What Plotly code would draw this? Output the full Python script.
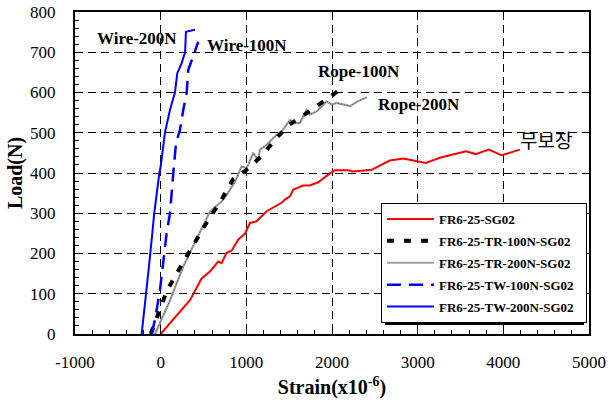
import plotly.graph_objects as go

# ---- data ----
sg_strain = [0, 147, 342, 478, 575, 672, 711, 770, 828, 906, 984, 1042, 1120, 1237, 1334, 1412, 1450,
             1509, 1548, 1664, 1742, 1839, 1976, 2034, 2189, 2245, 2463, 2675, 2831, 3096, 3259, 3415,
             3563, 3676, 3832, 3979, 4193]
sg_load = [0, 35, 84, 138, 155, 180, 176, 202, 207, 235, 249, 276, 280, 305, 316, 326, 334,
           342, 359, 369, 369, 377, 399, 407, 407, 404, 408, 431, 436, 425, 438, 446,
           454, 447, 458, 444, 458]

tr100_strain = [-115, -28, 70, 187, 303, 420, 556, 700, 847, 1003, 1198, 1334, 1500, 1700, 1917, 2113]
tr100_load = [0, 52, 106, 151, 193, 236, 284, 330, 385, 408, 446, 483, 520, 548, 582, 610]

tr200_strain = [-66, 100, 264, 420, 575, 634, 711, 770, 867, 945, 1003, 1081, 1139, 1159, 1237, 1353,
                1412, 1509, 1548, 1625, 1703, 1742, 1820, 1937, 1995, 2054, 2210, 2300, 2405]
tr200_load = [0, 79, 168, 238, 304, 315, 329, 345, 378, 416, 412, 449, 433, 458, 470, 495,
              503, 532, 524, 524, 557, 545, 553, 578, 570, 574, 566, 578, 588]

tw100_strain = [-105, -67, -8, 31, 70, 109, 120, 147, 179, 225, 264, 303, 322, 361, 400, 439]
tw100_load = [0, 35, 109, 184, 251, 300, 333, 399, 474, 507, 557, 598, 656, 681, 706, 726]

tw200_strain = [-222, -191, -145, -105, -75, -16, 0, 50, 109, 167, 194, 245, 285, 295, 400]
tw200_load = [0, 68, 151, 234, 300, 399, 416, 500, 557, 600, 648, 673, 700, 751, 756]

series_names = ["FR6-25-SG02", "FR6-25-TR-100N-SG02", "FR6-25-TR-200N-SG02",
                "FR6-25-TW-100N-SG02", "FR6-25-TW-200N-SG02"]

labels = ["Wire-200N", "Wire-100N", "Rope-100N", "Rope-200N", "무보장"]
label_x = [-277, 1007, 2320, 3020, 4500]
label_y = [734, 716, 653, 569, 482]

x_ticks = [-1000, 0, 1000, 2000, 3000, 4000, 5000]
x_ticktext = ["-1000", "0", "1000", "2000", "3000", "4000", "5000"]
y_ticks = [0, 100, 200, 300, 400, 500, 600, 700, 800]

SERIF = "Liberation Serif"
PAD = "\u00a0\u00a0"

fig = go.Figure()
fig.add_trace(go.Scatter(x=sg_strain, y=sg_load, mode="lines", name=series_names[0] + PAD,
                         legendgroup="a", legendrank=1, line=dict(color="#ff0000", width=2)))
fig.add_trace(go.Scatter(x=tr200_strain, y=tr200_load, mode="lines", name=series_names[2] + PAD,
                         legendgroup="c", legendrank=3, line=dict(color="#a0a0a0", width=2.2)))
fig.add_trace(go.Scatter(x=tr200_strain, y=tr200_load, mode="lines", showlegend=False,
                         hoverinfo="skip", line=dict(color="#505050", width=1, dash="1px,2px")))
fig.add_trace(go.Scatter(x=tr100_strain, y=tr100_load, mode="lines", name=series_names[1] + PAD,
                         legendgroup="b", legendrank=2, line=dict(color="#000000", width=4, dash="7px,10px")))
fig.add_trace(go.Scatter(x=tw100_strain, y=tw100_load, mode="lines", name=series_names[3] + PAD,
                         legendgroup="d", legendrank=4, line=dict(color="#0000ff", width=2.5, dash="14px,8px")))
fig.add_trace(go.Scatter(x=tw200_strain, y=tw200_load, mode="lines", name=series_names[4] + PAD,
                         legendgroup="e", legendrank=5, line=dict(color="#0000ff", width=2)))

for t, xv, yv in zip(labels, label_x, label_y):
    if t == "무보장":
        f = dict(family="Noto Sans CJK KR", size=19, color="black")
    else:
        f = dict(family=SERIF, size=17, color="black", weight="bold")
    fig.add_annotation(x=xv, y=yv, text=t, showarrow=False, font=f,
                       xanchor="center", yanchor="middle")

axis_common = dict(
    showgrid=True, gridcolor="black", gridwidth=1, griddash="8px,5px",
    showline=True, linecolor="black", linewidth=2, mirror=True,
    ticks="inside", ticklen=7, tickwidth=1, tickcolor="black",
    zeroline=False, automargin=False,
    tickfont=dict(family=SERIF, size=17, color="black"),
)

fig.update_xaxes(range=[-1000, 5000], tickvals=x_ticks, ticktext=x_ticktext,
                 minor=dict(ticks="inside", dtick=200, tick0=0, ticklen=4, tickcolor="black", showgrid=False),
                 ticklabelstandoff=12,
                 title=dict(text="Strain(x10<sup>-6</sup>)", standoff=9,
                            font=dict(family=SERIF, size=20, color="black", weight="bold")),
                 **axis_common)
fig.update_yaxes(range=[0, 800], tickvals=y_ticks,
                 minor=dict(ticks="inside", dtick=20, tick0=0, ticklen=4, tickcolor="black", showgrid=False),
                 ticklabelstandoff=14,
                 title=dict(text="Load(N)", standoff=2,
                            font=dict(family=SERIF, size=20, color="black", weight="bold")),
                 **axis_common)

# legend shadow
px2x = lambda p: (p - 75) / 514
px2y = lambda p: (334 - p) / 322
fig.add_shape(type="rect", xref="paper", yref="paper",
              x0=px2x(385), x1=px2x(584), y0=px2y(325), y1=px2y(207),
              fillcolor="black", line=dict(width=0), layer="above")

fig.update_layout(
    width=608, height=402,
    margin=dict(l=75, r=19, t=12, b=68),
    paper_bgcolor="white", plot_bgcolor="white",
    showlegend=True,
    legend=dict(x=px2x(381), y=px2y(203), xanchor="left", yanchor="top",
                bgcolor="white", bordercolor="black", borderwidth=1,
                traceorder="grouped", tracegroupgap=2, itemwidth=47,
                font=dict(family=SERIF, size=13, color="black", weight="bold")),
)

fig.write_html("out.html")
